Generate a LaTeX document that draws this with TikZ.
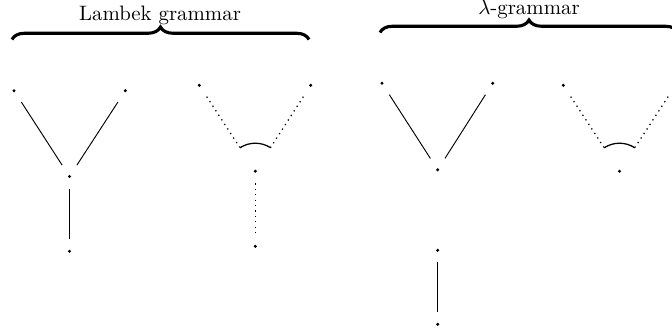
\documentclass[tikz,border=0pt]{standalone}
\usetikzlibrary{decorations.pathreplacing}
\begin{document}
\begin{tikzpicture}[x=0.48pt,y=-0.48pt,
  pt/.style={circle,fill=black,inner sep=0pt,minimum size=1.6pt},
  edge/.style={line width=0.45pt,shorten <=5.5pt,shorten >=5.5pt},
  vedge/.style={line width=0.45pt,shorten <=4.8pt,shorten >=4.8pt},
  dedge/.style={line width=0.6pt,dotted,shorten <=5.5pt,shorten >=12.7pt},
  vdedge/.style={line width=0.6pt,dotted,shorten <=4.8pt,shorten >=4.8pt},
  cut/.style={line width=0.6pt},
  bracestyle/.style={decorate,decoration={brace,amplitude=6pt},line width=1.5pt}]
\useasboundingbox (0,0) rectangle (672,330);

% Lambek tree 1
\node[pt] (a1) at (14,90.7) {};
\node[pt] (a2) at (125.3,90.7) {};
\node[pt] (a3) at (69.5,176.5) {};
\node[pt] (a4) at (69.5,251.3) {};
\draw[edge] (a1) -- (a3);
\draw[edge] (a2) -- (a3);
\draw[vedge] (a3) -- (a4);

% Lambek tree 2
\node[pt] (b1) at (199.3,85.3) {};
\node[pt] (b2) at (310.7,85.3) {};
\node[pt] (b3) at (255.3,171.2) {};
\node[pt] (b4) at (255.3,246.3) {};
\draw[dedge] (b1) -- (b3);
\draw[dedge] (b2) -- (b3);
\draw[vdedge] (b3) -- (b4);
\draw[cut] ([shift={(-56.8:28)}]b3.center) arc[start angle=-56.8,end angle=-123.2,radius=28];

% lambda tree 1
\node[pt] (c1) at (382,83.3) {};
\node[pt] (c2) at (492.7,83.3) {};
\node[pt] (c3) at (437.7,169.8) {};
\node[pt] (c4) at (437.7,250.3) {};
\node[pt] (c5) at (437.7,324.3) {};
\draw[edge] (c1) -- (c3);
\draw[edge] (c2) -- (c3);
\draw[vedge] (c4) -- (c5);

% lambda tree 2
\node[pt] (d1) at (563.3,85.3) {};
\node[pt] (d2) at (675.5,85.3) {};
\node[pt] (d3) at (619.5,171.2) {};
\draw[dedge] (d1) -- (d3);
\draw[dedge] (d2) -- (d3);
\draw[cut] ([shift={(-56.8:28)}]d3.center) arc[start angle=-56.8,end angle=-123.2,radius=28];

% braces and labels
\coordinate (l1) at (12,39.5);
\coordinate (l2) at (309,39.5);
\draw[bracestyle] (l1) -- (l2);
\node[anchor=base,inner sep=0pt] (lt) at (160,20.5) {Lambek grammar};
\coordinate (m1) at (380,32.5);
\coordinate (m2) at (678,32.5);
\draw[bracestyle] (m1) -- (m2);
\node[anchor=base,inner sep=0pt] (mt) at (529,14.5) {$\lambda$-grammar};
\end{tikzpicture}
\end{document}
